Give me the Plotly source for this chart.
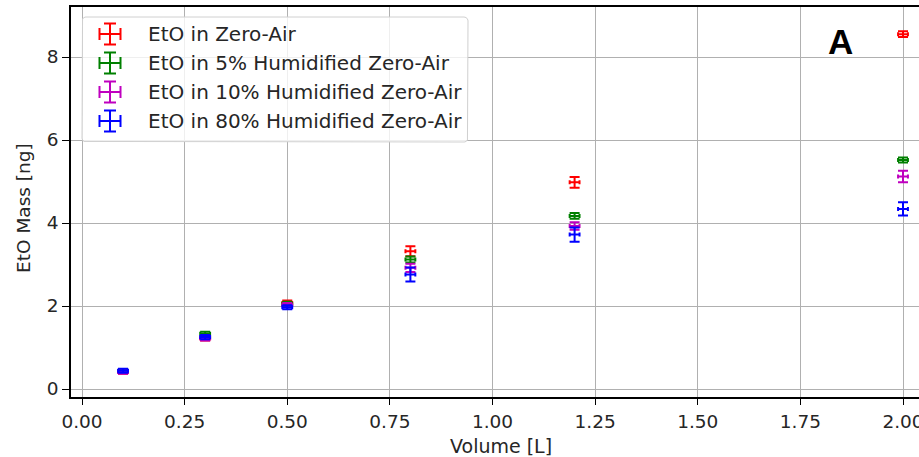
import math
import plotly.graph_objects as go

# ---------------- data ----------------
volume = [0.1, 0.3, 0.5, 0.8, 1.2, 2.0]
volume_err = [0.012, 0.012, 0.012, 0.012, 0.012, 0.012]

eto_zero_air = [0.42, 1.22, 2.07, 3.32, 4.98, 8.55]
eto_zero_air_err = [0.05, 0.05, 0.06, 0.12, 0.13, 0.07]

eto_hum5 = [0.43, 1.33, 2.05, 3.12, 4.17, 5.52]
eto_hum5_err = [0.04, 0.05, 0.05, 0.07, 0.07, 0.06]

eto_hum10 = [0.41, 1.22, 2.02, 2.92, 3.93, 5.12]
eto_hum10_err = [0.04, 0.05, 0.05, 0.10, 0.09, 0.14]

eto_hum80 = [0.44, 1.25, 1.97, 2.76, 3.72, 4.34]
eto_hum80_err = [0.05, 0.05, 0.05, 0.17, 0.17, 0.16]

series_names = [
    "EtO in Zero-Air",
    "EtO in 5% Humidified Zero-Air",
    "EtO in 10% Humidified Zero-Air",
    "EtO in 80% Humidified Zero-Air",
]
series_values = [eto_zero_air, eto_hum5, eto_hum10, eto_hum80]
series_errors = [eto_zero_air_err, eto_hum5_err, eto_hum10_err, eto_hum80_err]
colors = ["#ff0000", "#008000", "#bf00bf", "#0000ff"]

x_ticks = [0.0, 0.25, 0.5, 0.75, 1.0, 1.25, 1.5, 1.75, 2.0]
y_ticks = [0, 2, 4, 6, 8]

# ---------------- layout geometry ----------------
W, H = 919, 457
L, R, T, B = 71, 0, 7, 60
PW, PH = W - L - R, H - T - B

FONT = "DejaVu Sans"
TXT = "#262626"


def px_x(X):
    return (X - L) / PW


def px_y(Y):
    return (H - B - Y) / PH


fig = go.Figure()

for name, yv, ye, c in zip(series_names, series_values, series_errors, colors):
    fig.add_trace(go.Scatter(
        x=volume, y=yv, mode="markers", name=name,
        marker=dict(size=1, color=c),
        error_x=dict(type="data", array=volume_err, color=c, thickness=2, width=2),
        error_y=dict(type="data", array=ye, color=c, thickness=2, width=5),
        showlegend=False,
    ))

# ---- manual legend box (pixel-space overlay axes) ----
bx0, bx1, by0, by1, rr = 82, 468, 17, 142, 4
corners = [
    (bx1 - rr, by0 + rr, 270, 360),
    (bx1 - rr, by1 - rr, 0, 90),
    (bx0 + rr, by1 - rr, 90, 180),
    (bx0 + rr, by0 + rr, 180, 270),
]
box_x, box_y = [], []
for cx, cy, a0, a1 in corners:
    for k in range(7):
        a = math.radians(a0 + (a1 - a0) * k / 6)
        box_x.append(cx + rr * math.cos(a))
        box_y.append(cy + rr * math.sin(a))
box_x.append(box_x[0])
box_y.append(box_y[0])
fig.add_trace(go.Scatter(
    x=box_x, y=box_y, xaxis="x2", yaxis="y2", mode="lines", fill="toself",
    fillcolor="rgba(255,255,255,0.8)", line=dict(color="#d0d0d0", width=1),
    showlegend=False, hoverinfo="skip",
))

leg_rows = [34, 63, 92, 121]
for name, c, ry in zip(series_names, colors, leg_rows):
    fig.add_trace(go.Scatter(
        x=[110], y=[ry], xaxis="x2", yaxis="y2", mode="markers",
        marker=dict(size=1, color=c), showlegend=False, hoverinfo="skip",
        error_x=dict(type="data", array=[10.5], color=c, thickness=2, width=6),
        error_y=dict(type="data", array=[10.5], color=c, thickness=2, width=6),
    ))
    fig.add_annotation(
        x=146, y=ry, xref="x2", yref="y2", text=name, showarrow=False,
        xanchor="left", yanchor="middle",
        font=dict(family=FONT, size=20, color=TXT),
    )

# panel letter
fig.add_annotation(
    x=840, y=41, xref="x2", yref="y2", text="<b>A</b>", showarrow=False,
    xanchor="center", yanchor="middle",
    font=dict(family="Liberation Sans", size=35, color="black"),
)

# axis titles as annotations
fig.add_annotation(
    x=px_x(501), y=px_y(446), xref="paper", yref="paper", text="Volume [L]",
    showarrow=False, xanchor="center", yanchor="middle",
    font=dict(family=FONT, size=19, color=TXT),
)
fig.add_annotation(
    x=px_x(24), y=px_y(208), xref="paper", yref="paper", text="EtO Mass [ng]",
    showarrow=False, xanchor="center", yanchor="middle", textangle=-90,
    font=dict(family=FONT, size=18.5, color=TXT),
)

x_lo = -(82 - 71) / 410.5
x_hi = x_lo + PW / 410.5
y_lo = -8 / 41.5
y_hi = y_lo + PH / 41.5

fig.update_layout(
    width=W, height=H,
    margin=dict(l=L, r=R, t=T, b=B, pad=0, autoexpand=False),
    paper_bgcolor="white", plot_bgcolor="white",
    showlegend=False,
    font=dict(family=FONT, size=18, color=TXT),
    xaxis=dict(
        range=[x_lo, x_hi], tickvals=x_ticks,
        ticktext=[f"{v:.2f}" for v in x_ticks],
        showgrid=True, gridcolor="#b0b0b0", gridwidth=1.2, zeroline=False,
        showline=True, linecolor="black", linewidth=1.5, mirror=True,
        ticks="outside", ticklen=6, tickwidth=1.2, tickcolor="black",
        ticklabelstandoff=1, ticklabeloverflow="allow", automargin=False,
        tickfont=dict(family=FONT, size=18.5, color=TXT),
    ),
    yaxis=dict(
        range=[y_lo, y_hi], tickvals=y_ticks,
        ticktext=[str(v) for v in y_ticks],
        showgrid=True, gridcolor="#b0b0b0", gridwidth=1.2, zeroline=False,
        showline=True, linecolor="black", linewidth=1.5, automargin=False,
        ticks="outside", ticklen=7, tickwidth=1.2, tickcolor="black",
        tickfont=dict(family=FONT, size=18.5, color=TXT),
    ),
    xaxis2=dict(overlaying="x", range=[L, W], visible=False, showgrid=False),
    yaxis2=dict(overlaying="y", range=[H - B, T], visible=False, showgrid=False),
)

fig.write_html("out.html")
